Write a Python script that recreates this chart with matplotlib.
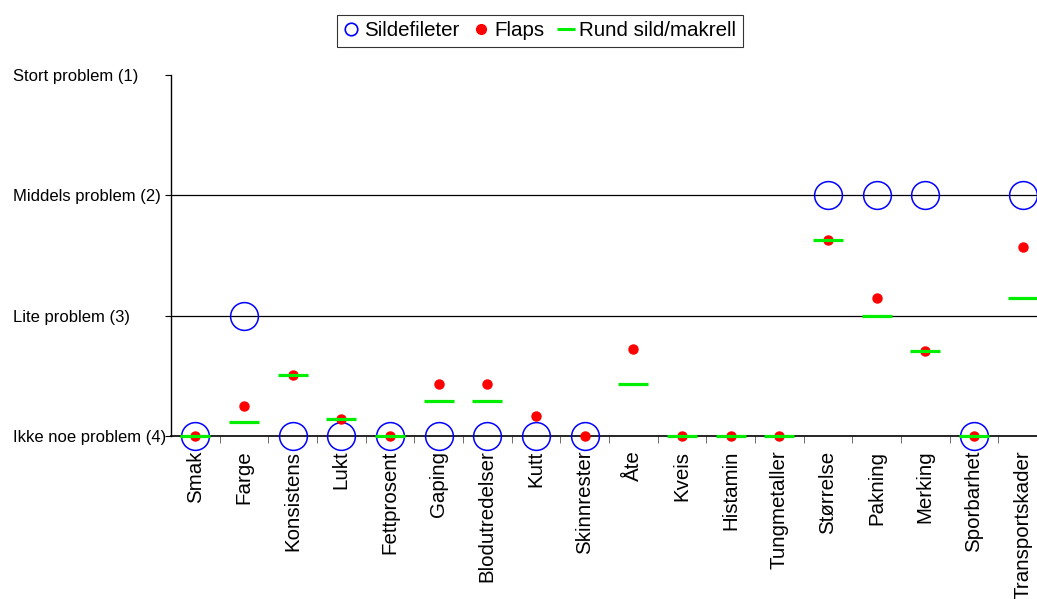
import numpy as np
import matplotlib
matplotlib.use("Agg")
import matplotlib.pyplot as plt
from matplotlib.lines import Line2D

plt.rcParams['font.family'] = ['Liberation Sans', 'DejaVu Sans']

# Data
categories = ["Smak", "Farge", "Konsistens", "Lukt", "Fettprosent", "Gaping",
              "Blodutredelser", "Kutt", "Skinnrester", "Åte", "Kveis", "Histamin",
              "Tungmetaller", "Størrelse", "Pakning", "Merking", "Sporbarhet",
              "Transportskader"]
nan = np.nan
sildefileter = [4, 3, 4, 4, 4, 4, 4, 4, 4, nan, nan, nan, nan, 2, 2, 2, 4, 2]
flaps = [4, 3.75, 3.49, 3.86, 4, 3.57, 3.57, 3.83, 4, 3.28, 4, 4, 4,
         2.37, 2.85, 3.29, 4, 2.43]
rund = [4, 3.88, 3.49, 3.86, 4, 3.71, 3.71, nan, nan, 3.57, 4, 4, 4,
        2.37, 3.0, 3.29, 4, 2.85]
ytick_vals = [1, 2, 3, 4]
ytick_labels = ["Stort problem (1)", "Middels problem (2)", "Lite problem (3)",
                "Ikke noe problem (4)"]

W, H = 1037, 599
fig = plt.figure(figsize=(W / 100, H / 100), dpi=100)
ax = fig.add_axes([171 / W, 163 / H, (1047 - 171) / W, 361 / H])

x = np.arange(len(categories))
ax.plot(x, sildefileter, linestyle='none', marker='o', markersize=20,
        markerfacecolor='none', markeredgecolor='#0000ff', markeredgewidth=1.1,
        clip_on=False, zorder=3)
ax.plot(x, flaps, linestyle='none', marker='o', markersize=6.5,
        color='#ff0000', clip_on=False, zorder=4)
ax.plot(x, rund, linestyle='none', marker='_', markersize=22,
        markeredgewidth=2.3, color='#00ee00', clip_on=False, zorder=5)

ax.set_xlim(-0.5, len(categories) - 0.5)
ax.set_ylim(4, 1)
for v in [2, 3]:
    ax.axhline(v, color='black', linewidth=0.9, zorder=1)

ax.spines['top'].set_visible(False)
ax.spines['right'].set_visible(False)
ax.spines['left'].set_linewidth(1.0)
ax.spines['bottom'].set_linewidth(1.2)

ax.set_yticks(ytick_vals)
ax.set_yticklabels(ytick_labels, fontsize=12, ha='left')
ax.tick_params(axis='y', length=4, pad=110)

ax.set_xticks(x)
ax.set_xticklabels(categories, rotation=90, fontsize=14.8)
ax.tick_params(axis='x', which='major', length=0, pad=10.5)
ax.set_xticks(np.arange(len(categories)) + 0.5, minor=True)
ax.tick_params(axis='x', which='minor', length=5, color='#555555')

handles = [
    Line2D([], [], linestyle='none', marker='o', markersize=9,
           markerfacecolor='none', markeredgecolor='#0000ff', markeredgewidth=1.2),
    Line2D([], [], linestyle='none', marker='o', markersize=7, color='#ff0000'),
    Line2D([], [], linestyle='none', marker='_', markersize=13,
           markeredgewidth=2.2, color='#00ee00'),
]
leg = fig.legend(handles, ["Sildefileter", "Flaps", "Rund sild/makrell"],
                 loc='center', bbox_to_anchor=(540 / W, 1 - 31 / H), ncol=3,
                 fontsize=14.8, frameon=True, fancybox=False, edgecolor='black',
                 handlelength=0.7, handletextpad=0.3, columnspacing=0.7,
                 borderpad=0.3)
leg.get_frame().set_linewidth(0.8)

fig.savefig("out.png", dpi=100)
